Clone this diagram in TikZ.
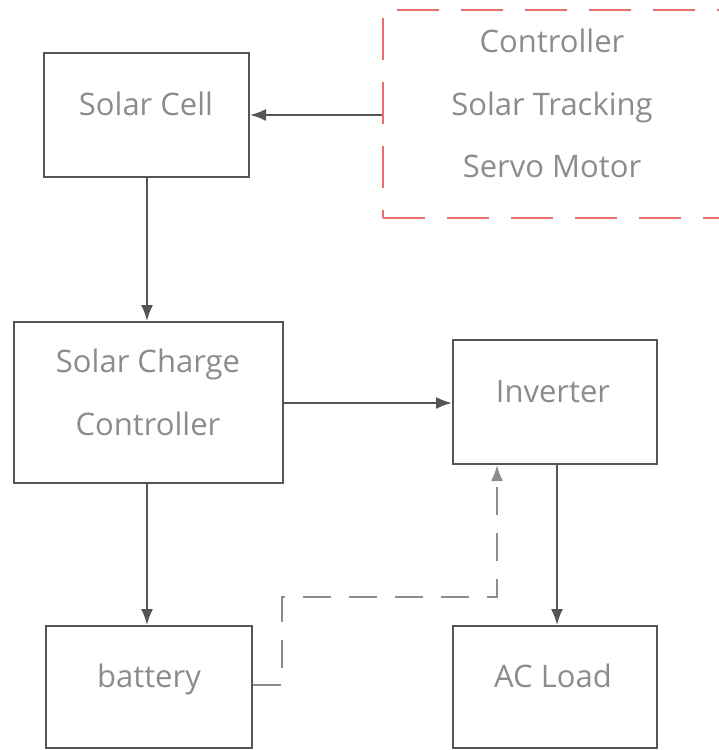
\documentclass[tikz,border=0pt]{standalone}
\usepackage{fontspec}
\setmainfont{Open Sans}
\usetikzlibrary{arrows.meta}
\definecolor{boxline}{RGB}{85,85,85}
\definecolor{txt}{RGB}{140,140,140}
\definecolor{redd}{RGB}{235,110,110}
\definecolor{dashg}{RGB}{140,140,140}
\begin{document}
\begin{tikzpicture}[x=1pt,y=-1pt,
  blk/.style={draw=boxline,line width=2pt,inner sep=0pt},
  lbl/.style={text=txt,font=\fontsize{31}{62}\selectfont,anchor=base,inner sep=0pt},
  conn/.style={draw=boxline,line width=2pt,-{Latex[length=16pt,width=12pt]}},
  dconn/.style={draw=dashg,line width=2pt,dash pattern=on 28pt off 18pt,-{Latex[length=16pt,width=12pt]}}
]
\useasboundingbox (0,0) rectangle (719,750);
% boxes
\node[blk,minimum width=205pt,minimum height=124pt] (cell) at (146.5,115) {};
\node[draw=redd,line width=2pt,dash pattern=on 42pt off 22pt,inner sep=0pt,minimum width=340pt,minimum height=208pt] (ctrl) at (553,114) {};
\node[blk,minimum width=269pt,minimum height=161pt] (scc) at (148.5,402.5) {};
\node[blk,minimum width=204pt,minimum height=124pt] (inv) at (555,402) {};
\node[blk,minimum width=206pt,minimum height=122pt] (bat) at (149,687) {};
\node[blk,minimum width=204pt,minimum height=122pt] (load) at (555,687) {};
% labels
\node[lbl] (tcell) at (146,115) {Solar Cell};
\node[lbl] (tc1) at (552,52) {Controller};
\node[lbl] (tc2) at (552,115) {Solar Tracking};
\node[lbl] (tc3) at (552,177) {Servo Motor};
\node[lbl] (ts1) at (148,372) {Solar Charge};
\node[lbl] (ts2) at (148,435) {Controller};
\node[lbl] (tinv) at (553,402) {Inverter};
\node[lbl] (tbat) at (149,687) {battery};
\node[lbl] (tload) at (553,687) {AC Load};
% connectors
\draw[conn] (ctrl.west |- 0,115) -- (cell.east |- 0,115);
\draw[conn] (cell.south -| 147,0) -- (scc.north -| 147,0);
\draw[conn] (scc.east |- 0,403) -- (inv.west |- 0,403);
\draw[conn] (scc.south -| 147,0) -- (bat.north -| 147,0);
\draw[conn] (inv.south -| 557,0) -- (load.north -| 557,0);
\coordinate (d1) at (282,685);
\coordinate (d2) at (282,597);
\coordinate (d3) at (497,597);
\draw[dconn] (bat.east |- d1) -- (d1) -- (d2) -- (d3) -- (inv.south -| d3);
\end{tikzpicture}
\end{document}
